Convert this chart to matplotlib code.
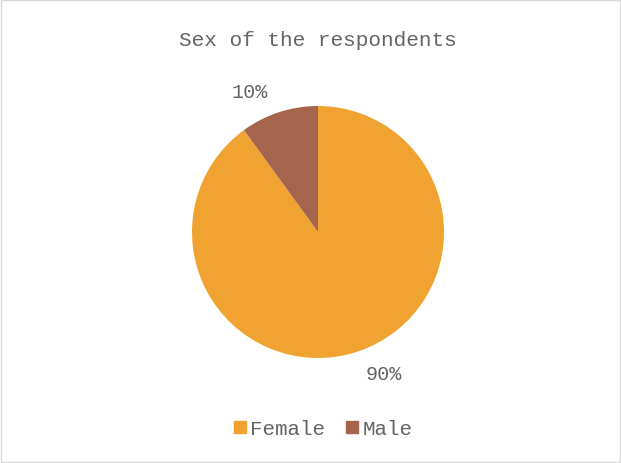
import numpy as np
import matplotlib.pyplot as plt
from matplotlib.lines import Line2D
from matplotlib.patches import Rectangle

categories = ['Female', 'Male']
shares = [90, 10]
colors = ['#F0A330', '#A5654D']
title = 'Sex of the respondents'

plt.rcParams['font.family'] = ['Liberation Mono', 'DejaVu Sans']
grey = '#646464'

fig = plt.figure(figsize=(6.21, 4.64), dpi=100)
fig.patches.append(Rectangle((0.002, 0.002), 0.996, 0.996, transform=fig.transFigure,
                             fill=False, edgecolor='#D9D9D9', linewidth=1))

r_px = 126
cx, cy = 318, 464 - 233
ax = fig.add_axes([(cx - r_px) / 621, (cy - r_px) / 464, 2 * r_px / 621, 2 * r_px / 464])
wedges, _ = ax.pie(shares, colors=colors, startangle=90, counterclock=False,
                   wedgeprops=dict(linewidth=0))
ax.set_xlim(-1, 1)
ax.set_ylim(-1, 1)
ax.set_aspect('equal')

# data labels placed outside the wedges
label_angles = [-65, 116]
for share, ang in zip(shares, label_angles):
    a = np.deg2rad(ang)
    ax.text(1.24 * np.cos(a), 1.24 * np.sin(a), f'{share}%', ha='center', va='center',
            fontsize=14.5, color=grey, clip_on=False)

fig.text(318 / 621, 1 - 40 / 464, title, ha='center', va='center', fontsize=15.2, color=grey)

handles = [Line2D([], [], marker='s', linestyle='', markersize=8, color=c) for c in colors]
fig.legend(handles, categories, loc='center', bbox_to_anchor=(321 / 621, 1 - 430 / 464),
           ncol=2, frameon=False, fontsize=15, labelcolor=grey, handletextpad=0.0,
           columnspacing=0.8, handlelength=1.0)

fig.savefig('out.png', dpi=100)
